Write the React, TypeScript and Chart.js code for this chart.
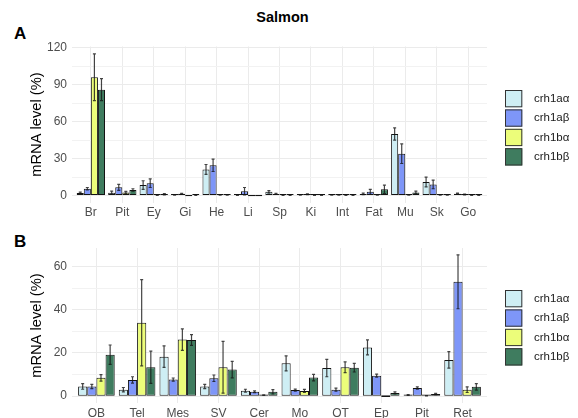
import React, { useEffect, useRef } from "react";
import { Chart, registerables } from "chart.js";

Chart.register(...registerables);

// ---------- data ----------
const seriesNames = ["crh1aα", "crh1aβ", "crh1bα", "crh1bβ"];
const seriesColors = ["#CEEEF4", "#7E96F8", "#ECFD7A", "#3F7C5F"];

const tissuesA = ["Br", "Pit", "Ey", "Gi", "He", "Li", "Sp", "Ki", "Int", "Fat", "Mu", "Sk", "Go"];
const aCrh1aAlpha = [2, 2.3, 8.5, 0.3, 21.2, 0.2, 3, 0.5, 0.3, 1.3, 50, 11, 1.5];
const aCrh1aAlphaErr = [0.8, 1.2, 3.5, 0.1, 4, 0.1, 1, 0.2, 0.1, 0.6, 5, 4, 0.5];
const aCrh1aBeta = [5.5, 6.6, 10, 1.5, 24.5, 3.5, 1.3, 1, 0.3, 3, 34, 9, 0.8];
const aCrh1aBetaErr = [1, 2.5, 3.5, 0.3, 5, 3, 0.4, 0.3, 0.1, 2, 8, 3.5, 0.3];
const aCrh1bAlpha = [96, 2.5, 0.2, 0, 0.5, 0, 0.2, 0.2, 0.2, 0.3, 0.3, 0.3, 0.2];
const aCrh1bAlphaErr = [19, 0.8, 0.1, 0, 0.2, 0, 0.1, 0.1, 0.1, 0.1, 0.1, 0.1, 0.1];
const aCrh1bBeta = [86, 4.5, 1, 0.2, 0.3, 0, 0.2, 0.2, 0.2, 5, 2.5, 0.3, 0.2];
const aCrh1bBetaErr = [9, 1, 0.5, 0.1, 0.1, 0, 0.1, 0.1, 0.1, 3.5, 1, 0.1, 0.1];
const ticksA = [0, 30, 60, 90, 120];
const minorTicksA = [15, 45, 75, 105];

const tissuesB = ["OB", "Tel", "Mes", "SV", "Cer", "Mo", "OT", "Ep", "Pit", "Ret"];
const bCrh1aAlpha = [4.5, 3, 18.3, 4.5, 2.5, 15.2, 13, 22.6, 0.5, 16.8];
const bCrh1aAlphaErr = [1.3, 1, 5, 1, 0.7, 3.5, 4, 3.5, 0.2, 3.8];
const bCrh1aBeta = [4.5, 7.5, 7.7, 8.3, 2, 2.8, 3, 9.5, 3.8, 53];
const bCrh1aBetaErr = [1, 1.5, 0.7, 1.5, 0.4, 0.5, 0.7, 0.7, 0.5, 12.5];
const bCrh1bAlpha = [8.5, 34, 26.2, 13.4, 0.5, 2.4, 13.4, 0, 0.2, 3];
const bCrh1bAlphaErr = [1.5, 20, 5, 12, 0.1, 0.7, 2.5, 0, 0.1, 1.3];
const bCrh1bBeta = [19.2, 13.4, 26, 12.3, 2, 8.6, 13.2, 1.5, 1, 4.3];
const bCrh1bBetaErr = [4.5, 7.5, 2.5, 3.8, 1, 1.5, 2, 0.5, 0.3, 1.5];
const ticksB = [0, 20, 40, 60];
const minorTicksB = [10, 30, 50];

const FONT = "'Liberation Sans', Arial, Helvetica, sans-serif";

// ---------- plugins ----------
const errorBarPlugin = {
  id: "errorBars",
  afterDatasetsDraw(chart: any) {
    const ctx = chart.ctx;
    const y = chart.scales.y;
    const area = chart.chartArea;
    ctx.save();
    ctx.beginPath();
    ctx.rect(area.left, area.top, area.right - area.left, area.bottom - area.top);
    ctx.clip();
    ctx.strokeStyle = "rgba(20,20,20,0.8)";
    ctx.lineWidth = 1.2;
    chart.data.datasets.forEach((ds: any, di: number) => {
      const meta = chart.getDatasetMeta(di);
      meta.data.forEach((bar: any, i: number) => {
        const v = ds.data[i];
        const e = ds.errors[i];
        if (!e) return;
        const yt = y.getPixelForValue(v + e);
        const yb = y.getPixelForValue(v - e);
        ctx.beginPath();
        ctx.moveTo(bar.x, yt);
        ctx.lineTo(bar.x, yb);
        ctx.moveTo(bar.x - 1.5, yt);
        ctx.lineTo(bar.x + 1.5, yt);
        ctx.moveTo(bar.x - 1.5, yb);
        ctx.lineTo(bar.x + 1.5, yb);
        ctx.stroke();
      });
    });
    ctx.restore();
  },
};

const legendPlugin = {
  id: "ggLegend",
  afterDraw(chart: any, _args: any, opts: any) {
    const ctx = chart.ctx;
    ctx.save();
    const size = 17.3;
    const step = 19.4;
    chart.data.datasets.forEach((ds: any, i: number) => {
      const top = opts.top + i * step;
      ctx.fillStyle = ds.backgroundColor;
      ctx.fillRect(opts.x, top, size, size);
      ctx.strokeStyle = "#333333";
      ctx.lineWidth = 1;
      ctx.strokeRect(opts.x + 0.5, top + 0.5, size - 1, size - 1);
      ctx.fillStyle = "#1a1a1a";
      ctx.font = `11.5px ${FONT}`;
      ctx.textAlign = "left";
      ctx.textBaseline = "middle";
      ctx.fillText(ds.label, opts.textX, top + size / 2);
    });
    ctx.restore();
  },
};

type PanelProps = {
  top: number;
  height: number;
  categories: string[];
  values: number[][];
  errors: number[][];
  yMin: number;
  yMax: number;
  majorTicks: number[];
  minorTicks: number[];
  padTop: number;
  xAxisHeight: number;
};

function Panel(p: PanelProps) {
  const ref = useRef<HTMLCanvasElement>(null);
  useEffect(() => {
    if (!ref.current) return;
    const n = p.categories.length;
    const allTicks = [...p.majorTicks, ...p.minorTicks].sort((a, b) => a - b);
    const chart = new Chart(ref.current, {
      type: "bar",
      data: {
        labels: p.categories,
        datasets: seriesNames.map((name, i) => ({
          label: name,
          data: p.values[i],
          errors: p.errors[i],
          backgroundColor: seriesColors[i],
          borderColor: "#141414",
          borderWidth: 1,
          borderSkipped: false,
          minBarLength: 1.6,
          categoryPercentage: 0.9,
          barPercentage: 1,
        })) as any,
      },
      options: {
        animation: false,
        responsive: false,
        maintainAspectRatio: false,
        layout: { padding: { top: p.padTop, left: 0, right: 91, bottom: 0 } },
        plugins: {
          legend: { display: false },
          tooltip: { enabled: false },
          ggLegend: { x: 505, textX: 534, top: 62 },
        } as any,
        scales: {
          x: {
            type: "category",
            offset: true,
            grid: { offset: false, color: "#EBEBEB", lineWidth: 1, drawTicks: false },
            border: { display: false },
            ticks: { color: "#4D4D4D", font: { family: FONT, size: 12 }, padding: 3, maxRotation: 0, autoSkip: false },
            afterBuildTicks: (scale: any) => {
              scale._startValue = -0.6;
              scale._valueRange = n - 1 + 1.2;
            },
            afterFit: (scale: any) => {
              scale.height = p.xAxisHeight;
            },
          },
          y: {
            type: "linear",
            min: p.yMin,
            max: p.yMax,
            grid: {
              color: (c: any) => (p.majorTicks.includes(c.tick?.value) ? "#EBEBEB" : "#F2F2F2"),
              lineWidth: 1,
              drawTicks: false,
            },
            border: { display: false },
            afterBuildTicks: (scale: any) => {
              scale.ticks = allTicks.map((v) => ({ value: v }));
            },
            ticks: {
              color: "#4D4D4D",
              font: { family: FONT, size: 12 },
              padding: 5,
              callback: (v: any) => (p.majorTicks.includes(Number(v)) ? String(v) : ""),
            },
            title: {
              display: true,
              text: "mRNA level (%)",
              color: "#000000",
              font: { family: FONT, size: 14.7 },
              padding: { top: 28, bottom: 0 },
            },
            afterFit: (scale: any) => {
              scale.width = 72;
            },
          },
        },
      },
      plugins: [errorBarPlugin, legendPlugin],
    });
    return () => chart.destroy();
  }, []);
  return (
    <canvas
      ref={ref}
      width={578}
      height={p.height}
      style={{ position: "absolute", left: 0, top: p.top, width: 578, height: p.height }}
    />
  );
}

const labelStyle: React.CSSProperties = {
  position: "absolute",
  fontFamily: FONT,
  fontWeight: "bold",
  color: "#000",
  lineHeight: "1",
  whiteSpace: "nowrap",
};

export default function App() {
  return (
    <div style={{ position: "absolute", left: 0, top: 0, width: 578, height: 418, background: "#fff", overflow: "hidden" }}>
      <div style={{ ...labelStyle, fontSize: 14.5, left: 0, width: 565, top: 10, textAlign: "center" }}>Salmon</div>
      <div style={{ ...labelStyle, fontSize: 17, left: 14, top: 25 }}>A</div>
      <div style={{ ...labelStyle, fontSize: 17, left: 14, top: 233 }}>B</div>
      <Panel
        top={28}
        height={200}
        categories={tissuesA}
        values={[aCrh1aAlpha, aCrh1aBeta, aCrh1bAlpha, aCrh1bBeta]}
        errors={[aCrh1aAlphaErr, aCrh1aBetaErr, aCrh1bAlphaErr, aCrh1bBetaErr]}
        yMin={-5.77}
        yMax={121.05}
        majorTicks={ticksA}
        minorTicks={minorTicksA}
        padTop={18.5}
        xAxisHeight={25.4}
      />
      <Panel
        top={228}
        height={190}
        categories={tissuesB}
        values={[bCrh1aAlpha, bCrh1aBeta, bCrh1bAlpha, bCrh1bBeta]}
        errors={[bCrh1aAlphaErr, bCrh1aBetaErr, bCrh1bAlphaErr, bCrh1bBetaErr]}
        yMin={-3.27}
        yMax={68.67}
        majorTicks={ticksB}
        minorTicks={minorTicksB}
        padTop={20}
        xAxisHeight={14.8}
      />
    </div>
  );
}
